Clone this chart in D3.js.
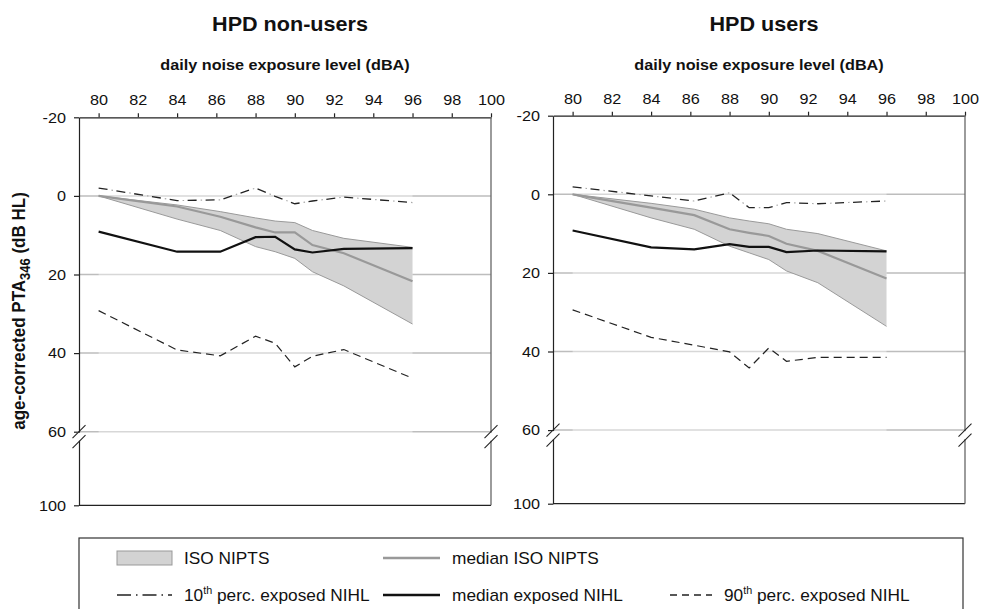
<!DOCTYPE html>
<html>
<head>
<meta charset="utf-8">
<script src="https://cdn.jsdelivr.net/npm/d3@7/dist/d3.min.js"></script>
<style>
  body { margin: 0; background: #fff; }
  svg { display: block; font-family: "Liberation Sans", Arial, Helvetica, sans-serif; }
</style>
</head>
<body>
<div id="chart"></div>
<script>
// exposure levels (dBA) where the curves have points
var exposure = [80, 84, 86.2, 88, 89, 90, 90.9, 92.5, 96];
var xTicks = [80, 82, 84, 86, 88, 90, 92, 94, 96, 98, 100];
var yTicks = [-20, 0, 20, 40, 60, 100];
var gridValues = [0, 20, 40, 60];

var panelTitles = ['HPD non-users', 'HPD users'];
var xTitle = 'daily noise exposure level (dBA)';

// HPD non-users (dB HL)
var isoLowNon  = [0, 2.3, 4.0, 5.6, 6.4, 6.8, 8.8, 10.8, 13.1];
var isoHighNon = [0, 5.9, 8.8, 12.9, 14.2, 15.9, 19.3, 22.9, 32.6];
var isoMedNon  = [0, 2.7, 5.3, 8.0, 9.3, 9.3, 12.5, 14.6, 21.7];
var medNon     = [9.1, 14.2, 14.2, 10.5, 10.4, 13.6, 14.4, 13.5, 13.3];
var p10Non     = [-2.0, 1.2, 1.0, -2.0, 0.1, 2.0, 1.3, 0.3, 1.7];
var p90Non     = [29.2, 39.2, 40.7, 35.7, 37.5, 43.5, 40.8, 39.1, 46.4];

// HPD users (dB HL)
var isoLowUse  = [0, 2.3, 3.8, 6.0, 6.8, 7.5, 8.9, 10.0, 14.4];
var isoHighUse = [0, 6.0, 8.9, 13.2, 14.9, 16.6, 19.5, 22.5, 33.6];
var isoMedUse  = [0, 3.4, 5.3, 8.9, 9.8, 10.6, 12.6, 14.4, 21.4];
var medUse     = [9.2, 13.5, 14.0, 12.7, 13.4, 13.4, 14.7, 14.3, 14.5];
var p10Use     = [-1.9, 0.4, 1.7, -0.4, 3.4, 3.4, 2.1, 2.4, 1.7];
var p90Use     = [29.4, 36.4, 38.4, 40.1, 44.2, 39.1, 42.5, 41.5, 41.5];

var legendLabels = ['ISO NIPTS', 'median ISO NIPTS', 'perc. exposed NIHL', 'median exposed NIHL'];

var width = 992, height = 609;
var SX = 1.08;          // the source text is a bit wide
var plotW = 412;

var panels = [
  { title: panelTitles[0], left: 79, top: 117.3, isoLow: isoLowNon, isoHigh: isoHighNon, isoMed: isoMedNon, med: medNon, p10: p10Non, p90: p90Non },
  { title: panelTitles[1], left: 553, top: 115.7, isoLow: isoLowUse, isoHigh: isoHighUse, isoMed: isoMedUse, med: medUse, p10: p10Use, p90: p90Use }
];

var svg = d3.select('#chart').append('svg')
    .attr('width', width)
    .attr('height', height);

function zip(vals) {
  return exposure.map(function(e, i) { return [e, vals[i]]; });
}

panels.forEach(function(p, pi) {
  var x = d3.scaleLinear().domain([79, 100]).range([p.left, p.left + plotW]);
  // broken axis: 60..100 squeezed
  var y = d3.scaleLinear().domain([-20, 60, 100]).range([p.top, p.top + 314.4, p.top + 388]);
  var g = svg.append('g');
  var x0 = p.left, x1 = p.left + plotW;

  // gridlines
  g.selectAll('.grid').data(gridValues).enter().append('line')
      .attr('x1', x0).attr('x2', x1)
      .attr('y1', function(d) { return y(d); })
      .attr('y2', function(d) { return y(d); })
      .attr('stroke', '#bdbdbd')
      .attr('stroke-width', 1.5);
  g.append('rect')
      .attr('x', x(80)).attr('width', x(96) - x(80))
      .attr('y', y(-20)).attr('height', y(60) - y(-20) + 2)
      .attr('fill', '#fff').attr('opacity', 0.4);

  var line = d3.line().x(function(d) { return x(d[0]); }).y(function(d) { return y(d[1]); });
  var area = d3.area()
      .x(function(d) { return x(d[0]); })
      .y0(function(d) { return y(d[1]); })
      .y1(function(d) { return y(d[2]); });

  var band = exposure.map(function(e, i) { return [e, p.isoLow[i], p.isoHigh[i]]; });
  g.append('path').attr('d', area(band)).attr('fill', '#d3d3d3');
  [p.isoLow, p.isoHigh].forEach(function(v) {
    g.append('path').attr('d', line(zip(v)))
        .attr('fill', 'none').attr('stroke', '#9a9a9a').attr('stroke-width', 1);
  });
  g.append('path').attr('d', line(zip(p.isoMed)))
      .attr('fill', 'none').attr('stroke', '#999').attr('stroke-width', 2.2);

  // 10th percentile: dark dashes with faint dots between them
  g.append('path').attr('d', line(zip(p.p10)))
      .attr('fill', 'none').attr('stroke', '#222').attr('stroke-width', 1.3)
      .attr('stroke-dasharray', '9,9');
  g.append('path').attr('d', line(zip(p.p10)))
      .attr('fill', 'none').attr('stroke', '#aaa').attr('stroke-width', 1.2)
      .attr('stroke-dasharray', '0,13,1.5,3.5');
  g.append('path').attr('d', line(zip(p.p90)))
      .attr('fill', 'none').attr('stroke', '#222').attr('stroke-width', 1.2)
      .attr('stroke-dasharray', '8,5');
  g.append('path').attr('d', line(zip(p.med)))
      .attr('fill', 'none').attr('stroke', '#111').attr('stroke-width', 2.2);

  // axes
  var fmt = function(d) { return String(d); };
  var top = g.append('g').attr('transform', 'translate(0,' + y(-20) + ')')
      .call(d3.axisTop(x).tickValues(xTicks).tickFormat(fmt).tickSize(4).tickSizeOuter(0).tickPadding(8));
  var left = g.append('g').attr('transform', 'translate(' + x0 + ',0)')
      .call(d3.axisLeft(y).tickValues(yTicks).tickFormat(fmt).tickSize(5).tickSizeOuter(0).tickPadding(8));
  [top, left].forEach(function(a) {
    a.selectAll('path,line').attr('stroke', '#222').attr('stroke-width', 1.2);
    a.selectAll('text').attr('font-size', 15).attr('fill', '#111')
        .attr('font-family', '"Liberation Sans", Arial, sans-serif')
        .attr('transform', 'scale(' + SX + ',1)');
  });
  left.selectAll('text').attr('x', -13 / SX);
  g.append('line').attr('x1', x0).attr('x2', x1).attr('y1', y(100)).attr('y2', y(100))
      .attr('stroke', '#222').attr('stroke-width', 1.3);
  g.append('line').attr('x1', x1).attr('x2', x1).attr('y1', y(-20)).attr('y2', y(100))
      .attr('stroke', '#666').attr('stroke-width', 1.3);

  // axis break marks at 60
  [x0, x1].forEach(function(bx) {
    var by = y(60);
    g.append('rect').attr('x', bx - 2).attr('y', by + 1).attr('width', 4).attr('height', 8).attr('fill', '#fff');
    [0, 10].forEach(function(off) {
      g.append('line')
          .attr('x1', bx - 6.5).attr('y1', by + off + 6.5)
          .attr('x2', bx + 6.5).attr('y2', by + off - 6.5)
          .attr('stroke', '#222').attr('stroke-width', 1.1);
    });
  });

  // titles
  var cx = (x0 + x1) / 2;
  svg.append('text')
      .attr('transform', 'translate(' + (cx + 5) + ',30.5) scale(' + SX + ',1)')
      .attr('text-anchor', 'middle').attr('font-weight', 'bold').attr('font-size', 20)
      .attr('fill', '#111').text(p.title);
  svg.append('text')
      .attr('transform', 'translate(' + cx + ',70) scale(' + SX + ',1)')
      .attr('text-anchor', 'middle').attr('font-weight', 'bold').attr('font-size', 15)
      .attr('fill', '#111').text(xTitle);
});

// y axis title
var yl = svg.append('text')
    .attr('transform', 'translate(25,311) rotate(-90) scale(1,' + SX + ')')
    .attr('text-anchor', 'middle').attr('font-weight', 'bold').attr('font-size', 17)
    .attr('fill', '#111');
yl.append('tspan').text('age-corrected PTA');
yl.append('tspan').attr('font-size', 13).attr('dy', 5).text('346');
yl.append('tspan').attr('dy', -5).text(' (dB HL)');

// legend
var lg = svg.append('g');
lg.append('rect').attr('x', 79).attr('y', 538).attr('width', 884).attr('height', 100)
    .attr('fill', 'none').attr('stroke', '#333').attr('stroke-width', 1.2);

var legendItems = [
  { col: 117, row: 558, w: 55, kind: 'area', label: [legendLabels[0]] },
  { col: 383, row: 558, w: 57, kind: 'isoMed', label: [legendLabels[1]] },
  { col: 117, row: 595, w: 55, kind: 'p10', label: ['10', 'th', ' ' + legendLabels[2]] },
  { col: 383, row: 595, w: 57, kind: 'med', label: [legendLabels[3]] },
  { col: 670, row: 595, w: 42, kind: 'p90', label: ['90', 'th', ' ' + legendLabels[2]] }
];

legendItems.forEach(function(it) {
  if (it.kind === 'area') {
    lg.append('rect').attr('x', it.col).attr('y', it.row - 7).attr('width', it.w).attr('height', 14)
        .attr('fill', '#d3d3d3').attr('stroke', '#999').attr('stroke-width', 1);
  } else {
    var st = {
      isoMed: { c: '#999', w: 2.5, d: null },
      med: { c: '#111', w: 2.5, d: null },
      p10: { c: '#222', w: 1.3, d: '14,5,1.5,5' },
      p90: { c: '#222', w: 1.3, d: '7,5' }
    }[it.kind];
    lg.append('line').attr('x1', it.col).attr('x2', it.col + it.w)
        .attr('y1', it.row).attr('y2', it.row)
        .attr('stroke', st.c).attr('stroke-width', st.w)
        .attr('stroke-dasharray', st.d);
  }
  var t = lg.append('text')
      .attr('transform', 'translate(' + (it.col + it.w + 12) + ',' + (it.row + 6) + ') scale(' + SX + ',1)')
      .attr('font-size', 16).attr('fill', '#111');
  if (it.label.length === 1) {
    t.text(it.label[0]);
  } else {
    t.append('tspan').text(it.label[0]);
    t.append('tspan').attr('font-size', 10).attr('dy', -7).text(it.label[1]);
    t.append('tspan').attr('dy', 7).text(it.label[2]);
  }
});
</script>
</body>
</html>
